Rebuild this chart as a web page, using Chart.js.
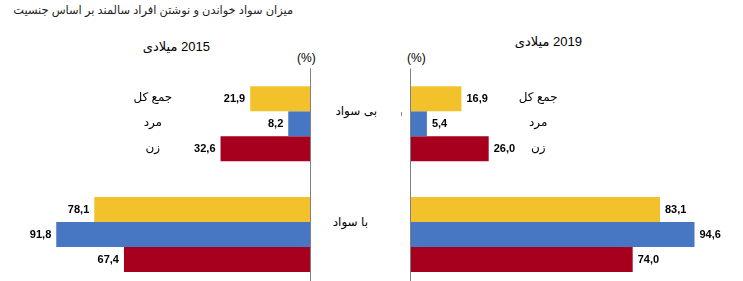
<!DOCTYPE html>
<html>
<head>
<meta charset="utf-8">
<script src="https://cdn.jsdelivr.net/npm/chart.js@4"></script>
<style>
  html, body { margin:0; padding:0; background:#fff; width:743px; height:281px; overflow:hidden; }
  body { position:relative; font-family: Arial, "Liberation Sans", "DejaVu Sans", sans-serif; color:#000; }
  .txt { position:absolute; white-space:nowrap; direction:rtl; }
  canvas { position:absolute; top:0; }
</style>
</head>
<body>
<div class="txt" style="right:450px; top:3px; font-size:11.4px; color:#222;">میزان سواد خواندن و نوشتن افراد سالمند بر اساس جنسیت</div>
<div class="txt" style="right:533px; top:39px; font-size:13px;">2015 میلادی</div>
<div class="txt" style="right:161px; top:34px; font-size:13px;">2019 میلادی</div>
<div class="txt" style="left:297px; top:51px; font-size:12px; direction:ltr;">(%)</div>
<div class="txt" style="left:407px; top:51px; font-size:12px; direction:ltr;">(%)</div>
<div class="txt" id="cat0" style="right:366px; top:104px; font-size:12px;"></div>
<div class="txt" id="cat1" style="right:375px; top:215px; font-size:12px;"></div>
<div style="position:absolute; left:401px; top:112px; width:1px; height:4px; background:#888;"></div>

<canvas id="left" width="312" height="290" style="left:0;"></canvas>
<canvas id="right" width="343" height="290" style="left:400px;"></canvas>

<script>
// ─── DATA ───
const categories = ['بی سواد', 'با سواد'];
const seriesNames = ['جمع کل', 'مرد', 'زن'];
const colors = ['#F3C12B', '#4776C2', '#A6001E'];

const total2015  = [21.9, 78.1];
const male2015   = [8.2, 91.8];
const female2015 = [32.6, 67.4];

const total2019  = [16.9, 83.1];
const male2019   = [5.4, 94.6];
const female2019 = [26.0, 74.0];

document.getElementById('cat0').textContent = categories[0];
document.getElementById('cat1').textContent = categories[1];

const fmt = v => v.toFixed(1).replace('.', ',');

// labels + axis line drawn on top of bars
function overlay(side, legendValue) {
    return {
        id: 'overlay_' + side,
        afterDatasetsDraw(chart) {
            const ctx = chart.ctx;
            const x = chart.scales.x;
            const area = chart.chartArea;
            const zero = Math.round(x.getPixelForValue(0)) - 0.5;

            // axis line
            ctx.save();
            ctx.strokeStyle = '#808080';
            ctx.lineWidth = 1;
            ctx.beginPath();
            ctx.moveTo(zero, area.top);
            ctx.lineTo(zero, chart.height);
            ctx.stroke();

            // value labels
            ctx.font = 'bold 11px Arial, "Liberation Sans", sans-serif';
            ctx.fillStyle = '#000';
            ctx.textBaseline = 'middle';
            chart.data.datasets.forEach((ds, i) => {
                chart.getDatasetMeta(i).data.forEach((bar, j) => {
                    const txt = fmt(ds.data[j]);
                    if (side === 'left') {
                        ctx.textAlign = 'right';
                        ctx.fillText(txt, bar.x - 5, bar.y);
                    } else {
                        ctx.textAlign = 'left';
                        ctx.fillText(txt, bar.x + 5, bar.y);
                    }
                });
            });

            // series names next to the first group
            ctx.font = '12px Arial, "DejaVu Sans", sans-serif';
            ctx.textAlign = 'center';
            ctx.direction = 'rtl';
            const lx = x.getPixelForValue(legendValue);
            chart.data.datasets.forEach((ds, i) => {
                const bar = chart.getDatasetMeta(i).data[0];
                ctx.fillText(ds.label, lx, bar.y - 1);
            });
            ctx.restore();
        }
    };
}

function makeChart(id, side, sets, xMax, padding, legendValue) {
    return new Chart(document.getElementById(id), {
        type: 'bar',
        data: {
            labels: categories,
            datasets: sets.map((d, i) => ({
                label: seriesNames[i],
                data: d,
                backgroundColor: colors[i],
                borderWidth: 0,
                barPercentage: 1,
                categoryPercentage: 0.677
            }))
        },
        options: {
            indexAxis: 'y',
            responsive: false,
            animation: false,
            layout: { padding: padding },
            plugins: { legend: { display: false }, tooltip: { enabled: false } },
            scales: {
                x: { display: false, min: 0, max: xMax, reverse: side === 'left' },
                y: { display: false }
            }
        },
        plugins: [overlay(side, legendValue)]
    });
}

makeChart('left', 'left', [total2015, male2015, female2015], 112.07,
    { top: 68.3, bottom: 0, left: 0, right: 1 }, 57);
makeChart('right', 'right', [total2019, male2019, female2019], 110.77,
    { top: 68.3, bottom: 0, left: 10.7, right: 0 }, 42.5);
</script>
</body>
</html>
